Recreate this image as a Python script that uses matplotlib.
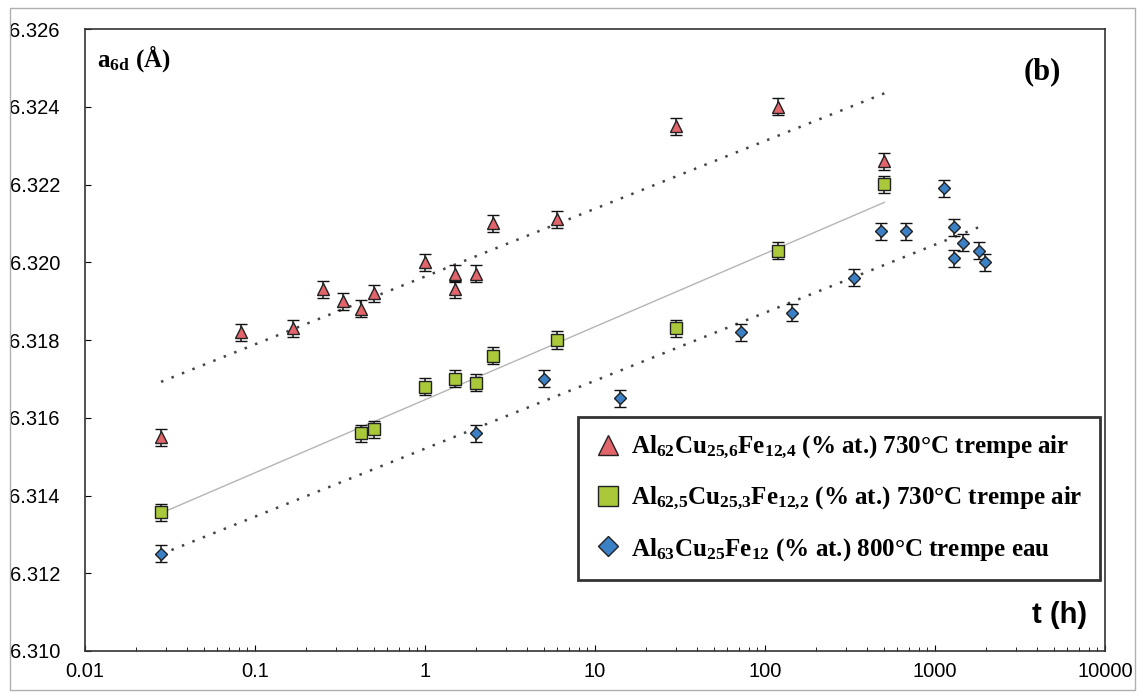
import numpy as np
import matplotlib
matplotlib.use('Agg')
import matplotlib.pyplot as plt
from matplotlib.lines import Line2D
from matplotlib.patches import Rectangle
from matplotlib import font_manager

# données (b)
t_rouge = [0.028, 0.083, 0.167, 0.25, 0.33, 0.42, 0.5, 1, 1.5, 1.5, 2, 2.5, 6, 30, 120, 504]
a_rouge = [6.3155, 6.3182, 6.3183, 6.3193, 6.3190, 6.3188, 6.3192, 6.3200, 6.3197, 6.3193,
           6.3197, 6.3210, 6.3211, 6.3235, 6.3240, 6.3226]

t_vert = [0.028, 0.42, 0.5, 1, 1.5, 2, 2.5, 6, 30, 120, 504]
a_vert = [6.31357, 6.3156, 6.3157, 6.3168, 6.3170, 6.3169, 6.3176, 6.3180, 6.3183, 6.3203, 6.3220]

t_bleu = [0.028, 2, 5, 14, 72, 144, 336, 480, 672, 1130, 1290, 1290, 1460, 1810, 1970]
a_bleu = [6.3125, 6.3156, 6.3170, 6.3165, 6.3182, 6.3187, 6.3196, 6.3208, 6.3208, 6.3219,
          6.3209, 6.3201, 6.3205, 6.3203, 6.3200]

err = 0.00022

labels = [r'Al$_{\mathrm{62}}$Cu$_{\mathrm{25{,}6}}$Fe$_{\mathrm{12{,}4}}$ (% at.) 730°C trempe air',
          r'Al$_{\mathrm{62{,}5}}$Cu$_{\mathrm{25{,}3}}$Fe$_{\mathrm{12{,}2}}$ (% at.) 730°C trempe air',
          r'Al$_{\mathrm{63}}$Cu$_{\mathrm{25}}$Fe$_{\mathrm{12}}$ (% at.) 800°C trempe eau']

names = {f.name for f in font_manager.fontManager.ttflist}
tick_font = 'Liberation Sans Narrow' if 'Liberation Sans Narrow' in names else 'Liberation Sans'

plt.rcParams['font.family'] = [tick_font, 'DejaVu Sans']
plt.rcParams['mathtext.fontset'] = 'custom'
plt.rcParams['mathtext.rm'] = 'Liberation Serif:bold'
plt.rcParams['mathtext.it'] = 'Liberation Serif:bold'
plt.rcParams['mathtext.bf'] = 'Liberation Serif:bold'

fig = plt.figure(figsize=(11.39, 6.98), dpi=100)
ax = fig.add_axes([85 / 1139, 1 - 651 / 698, 1020 / 1139, 622 / 698])

c_rouge = '#e2656b'
c_vert = '#a9c93a'
c_bleu = '#3b7fc4'

def tendance(t, a, t0, t1):
    p = np.polyfit(np.log10(t), a, 1)
    tt = np.array([t0, t1])
    return tt, np.polyval(p, np.log10(tt))

tt, aa = tendance(t_rouge, a_rouge, 0.028, 504)
ax.plot(tt, aa, color='#444444', lw=1.8, linestyle=(0, (1, 3.5)), zorder=1)
tt, aa = tendance(t_vert, a_vert, 0.028, 504)
ax.plot(tt, aa, color='#b5b5b5', lw=1.0, zorder=1)
tt, aa = tendance(t_bleu, a_bleu, 0.028, 1900)
ax.plot(tt, aa, color='#444444', lw=1.8, linestyle=(0, (1, 3.5)), zorder=1)

for t, a, c, m, ms in [(t_rouge, a_rouge, c_rouge, '^', 9),
                       (t_vert, a_vert, c_vert, 's', 8),
                       (t_bleu, a_bleu, c_bleu, 'D', 6.5)]:
    ax.errorbar(t, a, yerr=err, fmt=m, ms=ms, mfc=c, mec='#222222', mew=1.0,
                ecolor='#111111', elinewidth=1.1, capsize=4, capthick=1.1, zorder=3)

ax.set_xscale('log')
ax.set_xlim(0.01, 10000)
ax.set_ylim(6.310, 6.326)
ax.set_yticks(np.arange(6.310, 6.3261, 0.002))
ax.set_yticklabels(['%.3f' % v for v in np.arange(6.310, 6.3261, 0.002)])
ax.set_xticks([0.01, 0.1, 1, 10, 100, 1000, 10000])
ax.set_xticklabels(['0.01', '0.1', '1', '10', '100', '1000', '10000'])
ax.tick_params(axis='both', which='major', direction='in', length=4, labelsize=14.5, width=0.8)
ax.tick_params(axis='x', which='minor', direction='in', length=3, width=0.6)
ax.tick_params(axis='x', pad=8)
ax.tick_params(axis='y', pad=18)
for s in ax.spines.values():
    s.set_linewidth(1.2)
    s.set_color('#333333')

ax.text(0.012, 0.953, r'a$_{\mathrm{6d}}$ (Å)', transform=ax.transAxes, fontsize=18,
        family='Liberation Serif', fontweight='bold', va='center', ha='left')
ax.text(0.939, 0.931, '(b)', transform=ax.transAxes, fontsize=22,
        family='Liberation Serif', fontweight='bold', va='center', ha='center')
ax.text(0.982, 0.058, 't (h)', transform=ax.transAxes, fontsize=21,
        family='Liberation Sans', fontweight='bold', va='center', ha='right')

handles = [Line2D([], [], ls='none', marker='^', ms=15, mfc=c_rouge, mec='#222222'),
           Line2D([], [], ls='none', marker='s', ms=14, mfc=c_vert, mec='#222222'),
           Line2D([], [], ls='none', marker='D', ms=10, mfc=c_bleu, mec='#222222')]
leg = ax.legend(handles, labels, loc='lower right', bbox_to_anchor=(0.995, 0.114),
                borderaxespad=0, fancybox=False, frameon=True, labelspacing=0.95,
                handletextpad=0.4, borderpad=0.7, handlelength=1.0,
                prop={'family': 'Liberation Serif', 'weight': 'bold', 'size': 18})
leg.get_frame().set_edgecolor('black')
leg.get_frame().set_linewidth(2.0)

fig.patches.append(Rectangle((10 / 1139, 8 / 698), 1125 / 1139, 682 / 698,
                             transform=fig.transFigure, fill=False, ec='#b0b0b0', lw=1.0))

fig.savefig('out.png', dpi=100)
